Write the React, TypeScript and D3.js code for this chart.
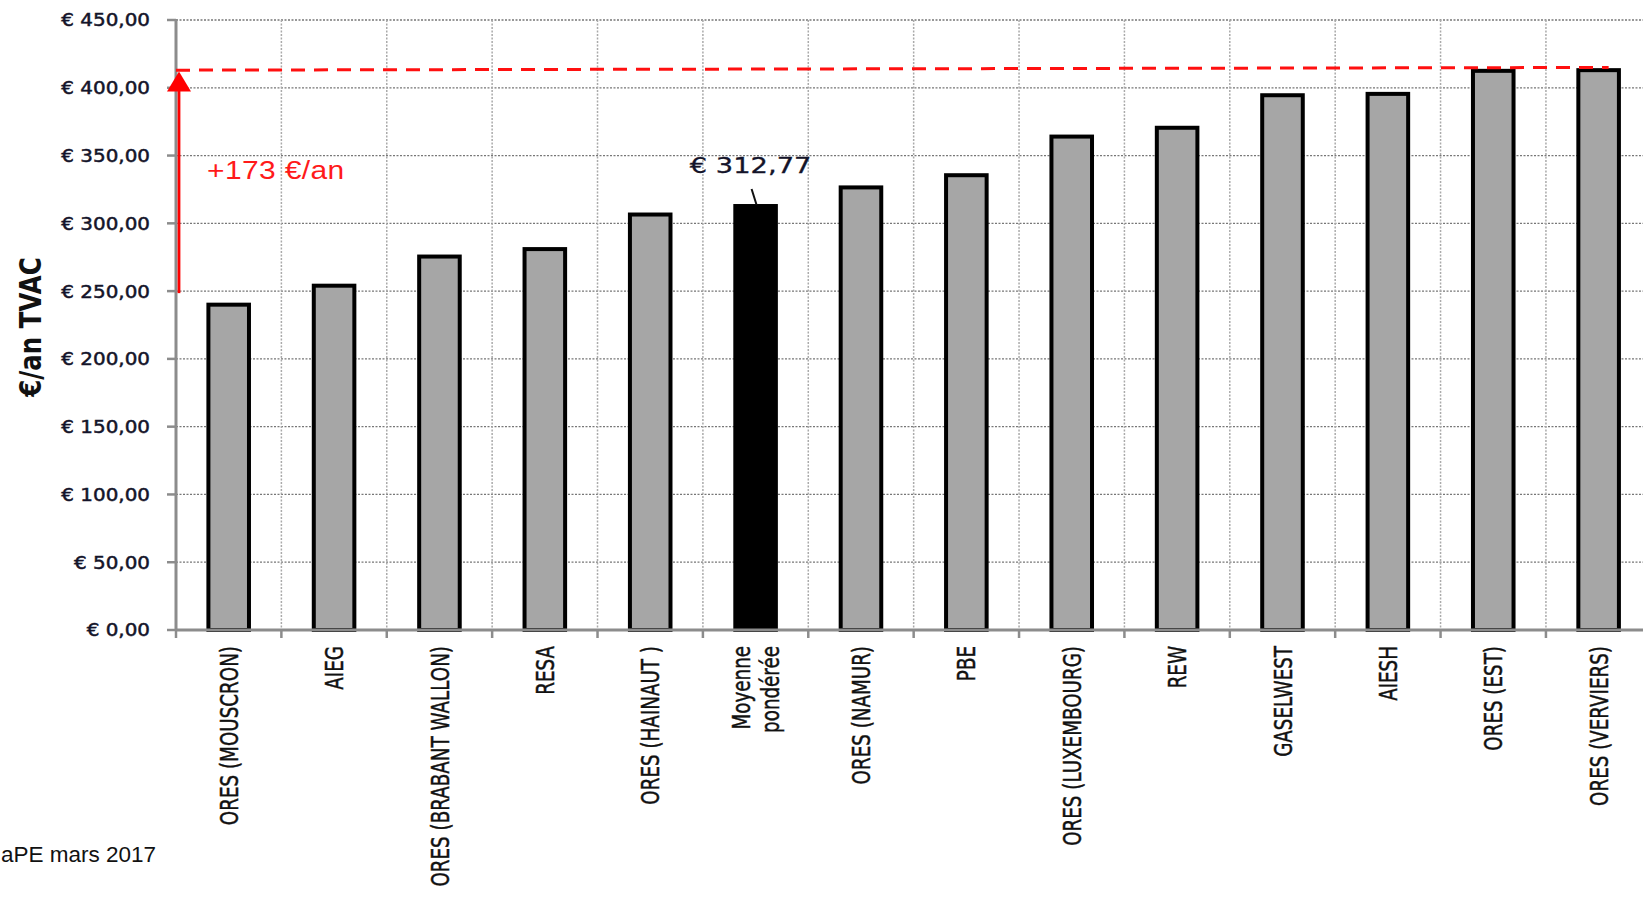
import * as d3 from 'd3';

const categories = [
  'ORES (MOUSCRON)',
  'AIEG',
  'ORES (BRABANT WALLON)',
  'RESA',
  'ORES (HAINAUT )',
  'Moyenne\npondérée',
  'ORES (NAMUR)',
  'PBE',
  'ORES (LUXEMBOURG)',
  'REW',
  'GASELWEST',
  'AIESH',
  'ORES (EST)',
  'ORES (VERVIERS)',
];
const values = [240, 254, 275.5, 281, 306.5, 312.77, 326.5, 335.5, 364, 370.5, 394.5, 395.5, 412.5, 413];
const highlighted = 'Moyenne\npondérée';
const yTicks = [0, 50, 100, 150, 200, 250, 300, 350, 400, 450];

// annotation: spread between cheapest and most expensive
const spreadFrom = 248.5;
const spreadTo = 412;
const spreadLabel = '+173 €/an';
const maxLineStart = 413;
const maxLineEnd = 415;
const avgLabel = '€ 312,77';
const source = 'aPE mars 2017';

const W = 1643;
const H = 897;

export default function App() {
  const x = d3.scaleBand<string>()
    .domain(categories)
    .range([176, 176 + categories.length * 105.38])
    .padding(0);
  const y = d3.scaleLinear().domain([0, 450]).range([630, 20]);
  const bw = x.bandwidth();
  const barW = bw * 0.385;
  const x0 = x.range()[0];
  const fmt = (v: number) => '€ ' + d3.format('.2f')(v).replace('.', ',');

  const avgIdx = categories.indexOf(highlighted);
  const avgCx = x(highlighted)! + bw / 2;
  const lastCx = x(categories[categories.length - 1])! + bw / 2;

  return (
    <svg width={W} height={H} style={{ position: 'absolute', left: 0, top: 0, background: '#fff' }}>
      {/* horizontal grid */}
      {yTicks.filter(t => t > 0).map(t => (
        <line key={'h' + t} x1={x0} x2={W} y1={y(t)} y2={y(t)}
          stroke="#777" strokeWidth={1.3} strokeDasharray="2,1.5" />
      ))}
      {/* vertical grid */}
      {categories.slice(1).map(c => (
        <line key={'v' + c} x1={x(c)!} x2={x(c)!} y1={y(450)} y2={y(0)}
          stroke="#aaa" strokeWidth={1.5} strokeDasharray="2,1.5" />
      ))}

      {/* bars */}
      {categories.map((c, i) => (
        <rect key={c} x={x(c)! + (bw - barW) / 2} y={y(values[i])}
          width={barW} height={y(0) - y(values[i])}
          fill={c === highlighted ? '#000' : '#a6a6a6'} stroke="#000" strokeWidth={4} />
      ))}

      {/* axes */}
      <line x1={x0} x2={W} y1={y(0)} y2={y(0)} stroke="#8c8c8c" strokeWidth={3} />
      <line x1={x0} x2={x0} y1={y(450) - 1} y2={y(0) + 1} stroke="#8c8c8c" strokeWidth={3} />
      {yTicks.map(t => (
        <line key={'yt' + t} x1={x0 - 9} x2={x0} y1={y(t)} y2={y(t)} stroke="#8c8c8c" strokeWidth={2.5} />
      ))}
      {categories.map(c => (
        <line key={'xt' + c} x1={x(c)!} x2={x(c)!} y1={y(0)} y2={y(0) + 8} stroke="#8c8c8c" strokeWidth={2.5} />
      ))}
      <line x1={x0 + categories.length * bw} x2={x0 + categories.length * bw} y1={y(0)} y2={y(0) + 8} stroke="#8c8c8c" strokeWidth={2.5} />

      {/* y tick labels */}
      {yTicks.map(t => (
        <text key={'yl' + t} transform={`translate(150,${y(t)}) scale(1.12,1)`} dy="0.36em"
          textAnchor="end" fontFamily="DejaVu Sans" fontSize={17.8} fill="#14142a"
          stroke="#14142a" strokeWidth={0.5}>
          {fmt(t)}
        </text>
      ))}

      {/* y title */}
      <text transform={`translate(30,327) scale(1.2,1) rotate(-90)`} textAnchor="middle" dy="0.36em"
        fontFamily="DejaVu Sans" fontWeight="bold" fontSize={24.5} fill="#111">
        €/an TVAC
      </text>

      {/* x labels */}
      {categories.map(c => {
        const lines = c.split('\n');
        const cx = x(c)! + bw / 2;
        return lines.map((ln, j) => (
          <text key={c + j}
            transform={`translate(${cx + (j - (lines.length - 1) / 2) * 29},646) scale(1.38,1) rotate(-90)`}
            textAnchor="end" dy="0.36em" fontFamily="DejaVu Sans" fontSize={18.3} fill="#111"
            stroke="#111" strokeWidth={0.35}>
            {ln}
          </text>
        ));
      })}

      {/* max dashed line */}
      <line x1={x0} x2={lastCx + 10} y1={y(maxLineStart)} y2={y(maxLineEnd)}
        stroke="#ff1010" strokeWidth={3} strokeDasharray="14,9" />

      {/* spread arrow */}
      <line x1={x0 + 3} x2={x0 + 3} y1={y(spreadFrom)} y2={y(spreadTo) + 16} stroke="#ff0000" strokeWidth={2.8} />
      <path d={`M${x0 + 3},${y(spreadTo)} L${x0 + 15},${y(spreadTo) + 20} L${x0 - 9},${y(spreadTo) + 20} Z`} fill="#ff0000" />
      <text transform={`translate(207,179) scale(1.2,1)`} fontFamily="Liberation Sans" fontSize={25}
        fill="#ff1a1a" letterSpacing={0.3}>
        {spreadLabel}
      </text>

      {/* average label */}
      <text transform={`translate(${avgCx - 5},173) scale(1.3,1)`} textAnchor="middle"
        fontFamily="DejaVu Sans" fontSize={21} fill="#14142a" stroke="#14142a" strokeWidth={0.3}>
        {avgLabel}
      </text>
      <line x1={avgCx - 4} y1={189} x2={avgCx + 1} y2={y(values[avgIdx]) - 1} stroke="#111" strokeWidth={2} />

      {/* source (left part cropped in the original) */}
      <text x={1} y={862} fontFamily="Liberation Sans" fontSize={22.5} fill="#111">
        {source}
      </text>
    </svg>
  );
}
